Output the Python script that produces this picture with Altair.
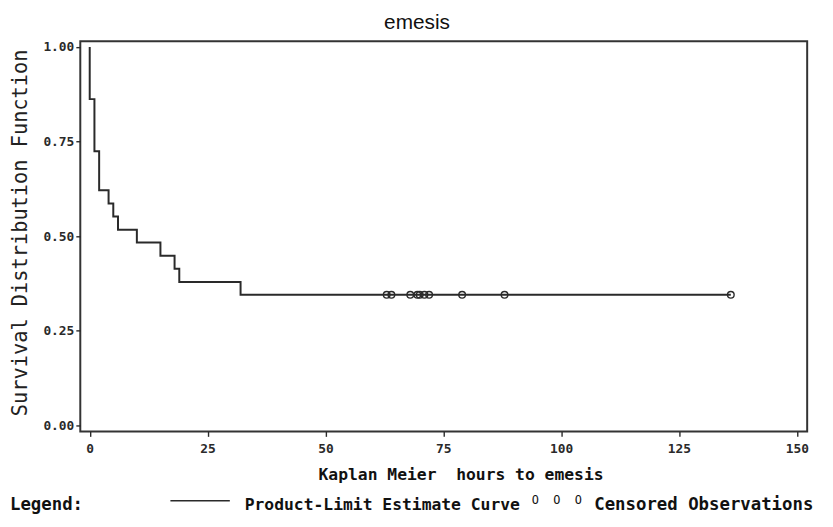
import altair as alt
import pandas as pd

# Kaplan-Meier step curve (event times, hours) and survival after each event
step_time = [0, 0, 1, 2, 4, 5, 6, 10, 15, 18, 19, 32, 136]
step_surv = [1.0, 0.862, 0.724, 0.621, 0.586, 0.552, 0.517, 0.483, 0.448, 0.414, 0.379, 0.345, 0.345]

# Censored observations
cens_time = [63, 64, 68, 69.5, 70, 71, 72, 79, 88, 136]
cens_surv = [0.345] * len(cens_time)

x_ticks = [0, 25, 50, 75, 100, 125, 150]
y_ticks = [0.0, 0.25, 0.5, 0.75, 1.0]

curve_df = pd.DataFrame({"t": step_time, "s": step_surv})
cens_df = pd.DataFrame({"t": cens_time, "s": cens_surv})

MONO = "DejaVu Sans Mono"
INK = "#2a2a2a"

xscale = alt.Scale(domain=[-2, 152.2], nice=False, zero=False)
yscale = alt.Scale(domain=[-0.016, 1.015], nice=False, zero=False)

xaxis = alt.Axis(
    values=x_ticks, format="d", grid=False, domain=False,
    tickSize=5, tickColor=INK, tickWidth=1.4,
    labelFont=MONO, labelFontWeight="bold", labelFontSize=13, labelColor=INK,
    labelPadding=6,
    title="Kaplan Meier\u00a0 hours to emesis",
    titleFont=MONO, titleFontWeight="bold", titleFontSize=16.5, titleColor="#111",
    titleX=384, titleY=49, titleAlign="center", titleBaseline="alphabetic",
)
yaxis = alt.Axis(
    values=y_ticks, format=".2f", grid=False, domain=False,
    tickSize=4.5, tickColor=INK, tickWidth=1.4,
    labelFont=MONO, labelFontWeight="bold", labelFontSize=13, labelColor=INK,
    labelPadding=2,
    title="Survival Distribution Function",
    titleFont=MONO, titleFontWeight="normal", titleFontSize=20.5, titleColor="#222",
    titleAngle=-90, titleX=-54, titleY=193, titleAlign="center", titleBaseline="alphabetic",
)

curve = alt.Chart(curve_df).mark_line(
    interpolate="step-after", color=INK, strokeWidth=2
).encode(
    x=alt.X("t:Q", scale=xscale, axis=xaxis),
    y=alt.Y("s:Q", scale=yscale, axis=yaxis),
    order="t:Q",
)

cens = alt.Chart(cens_df).mark_point(
    shape="circle", filled=False, size=45, strokeWidth=1.4, color=INK, opacity=1
).encode(
    x=alt.X("t:Q", scale=xscale),
    y=alt.Y("s:Q", scale=yscale),
)

one = pd.DataFrame({"a": [0]})

def label(text, px, py, size, font=MONO, weight="bold", align="left", baseline="middle"):
    return alt.Chart(one).mark_text(
        text=text, font=font, fontSize=size, fontWeight=weight,
        align=align, baseline=baseline, color="#111",
    ).encode(x=alt.value(px), y=alt.value(py))

title = label("emesis", 340, -12, 21, font="Liberation Sans", weight="normal",
              align="center", baseline="alphabetic")

leg_y = 468
legend_text = label("Legend:", -71, leg_y, 17.5)
legend_line = alt.Chart(one).mark_rule(color=INK, strokeWidth=1.6).encode(
    x=alt.value(91), x2=alt.value(151), y=alt.value(leg_y - 4)
)
legend_curve = label("Product-Limit Estimate Curve", 166, leg_y, 16.5)
legend_circ = label("O\u00a0\u00a0O\u00a0\u00a0O", 456, leg_y - 5, 12, weight="normal")
legend_cens = label("Censored Observations", 519, leg_y, 17.5)

chart = alt.layer(
    curve, cens, title, legend_text, legend_line, legend_curve, legend_circ, legend_cens
).properties(
    width=734, height=394,
    padding={"left": 73, "top": 31, "right": 18, "bottom": 94},
    autosize=alt.AutoSizeParams(type="none"),
    background="white",
).configure_view(
    stroke="#333", strokeWidth=2
)

chart.save("out.html", embed_options={"renderer": "svg", "actions": False})
